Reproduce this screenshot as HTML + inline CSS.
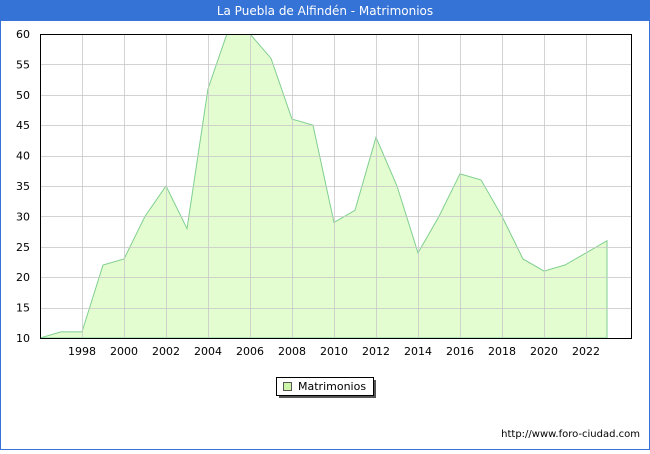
<!DOCTYPE html>
<html><head><style>
body{margin:0;width:650px;height:450px;overflow:hidden;background:#fff;font-family:"DejaVu Sans","Liberation Sans",sans-serif}
</style></head><body>
<svg width="650" height="450" xmlns="http://www.w3.org/2000/svg" font-family="DejaVu Sans, Liberation Sans, sans-serif">
<defs><clipPath id="c"><rect x="40" y="34" width="591" height="304"/></clipPath></defs>
<rect x="0.5" y="0.5" width="649" height="449" fill="#fff" stroke="#3573d6"/>
<rect x="0" y="0" width="650" height="21" fill="#3573d6"/>
<text x="325" y="15" text-anchor="middle" fill="#fff" font-size="12">La Puebla de Alfindén - Matrimonios</text>
<polygon id="area" fill="#e4fdd0" stroke="#7fcf8f" stroke-width="1" clip-path="url(#c)"/>
<g id="grid" stroke="#c8c8c8" stroke-opacity="0.8" stroke-width="1"></g>
<rect x="40.5" y="34.5" width="591" height="304" fill="none" stroke="#000"/>
<g id="yl" font-size="11" text-anchor="end" fill="#000"></g>
<g id="xl" font-size="11" text-anchor="middle" fill="#000"></g>
<rect x="279" y="380" width="97" height="18" fill="#555"/>
<rect x="276.5" y="377.5" width="97" height="18" fill="#fff" stroke="#000"/>
<rect x="283.5" y="382.5" width="8" height="8" fill="#ccf5a8" stroke="#555"/>
<text x="298" y="390" font-size="11">Matrimonios</text>
<text x="640" y="437" font-size="10" text-anchor="end">http://www.foro-ciudad.com</text>
</svg>
<script>
const ns="http://www.w3.org/2000/svg";
const X=y=>40+(y-1996)*21, Y=v=>338-(v-10)*6.08;
const g=document.getElementById('grid'),yl=document.getElementById('yl'),xl=document.getElementById('xl');
function el(p,t,a,txt){const e=document.createElementNS(ns,t);for(const k in a)e.setAttribute(k,a[k]);if(txt)e.textContent=txt;p.appendChild(e);}
for(let v=10;v<=60;v+=5){const y=Math.round(Y(v))+0.5;if(v>10&&v<60)el(g,'line',{x1:40,x2:631,y1:y,y2:y});el(yl,'text',{x:30,y:Y(v)+4},String(v));}
for(let yr=1998;yr<=2022;yr+=2){const x=X(yr)+0.5;el(g,'line',{x1:x,x2:x,y1:34,y2:338});el(xl,'text',{x:X(yr),y:355},String(yr));}
const d=[10,11,11,22,23,30,35,28,51,61,60,56,46,45,29,31,43,35,24,30,37,36,30,23,21,22,24,26];
let pts=d.map((v,i)=>X(1996+i)+','+Y(v));pts.push(X(2023)+','+338,X(1996)+','+338);
document.getElementById('area').setAttribute('points',pts.join(' '));
</script>
</body></html>
